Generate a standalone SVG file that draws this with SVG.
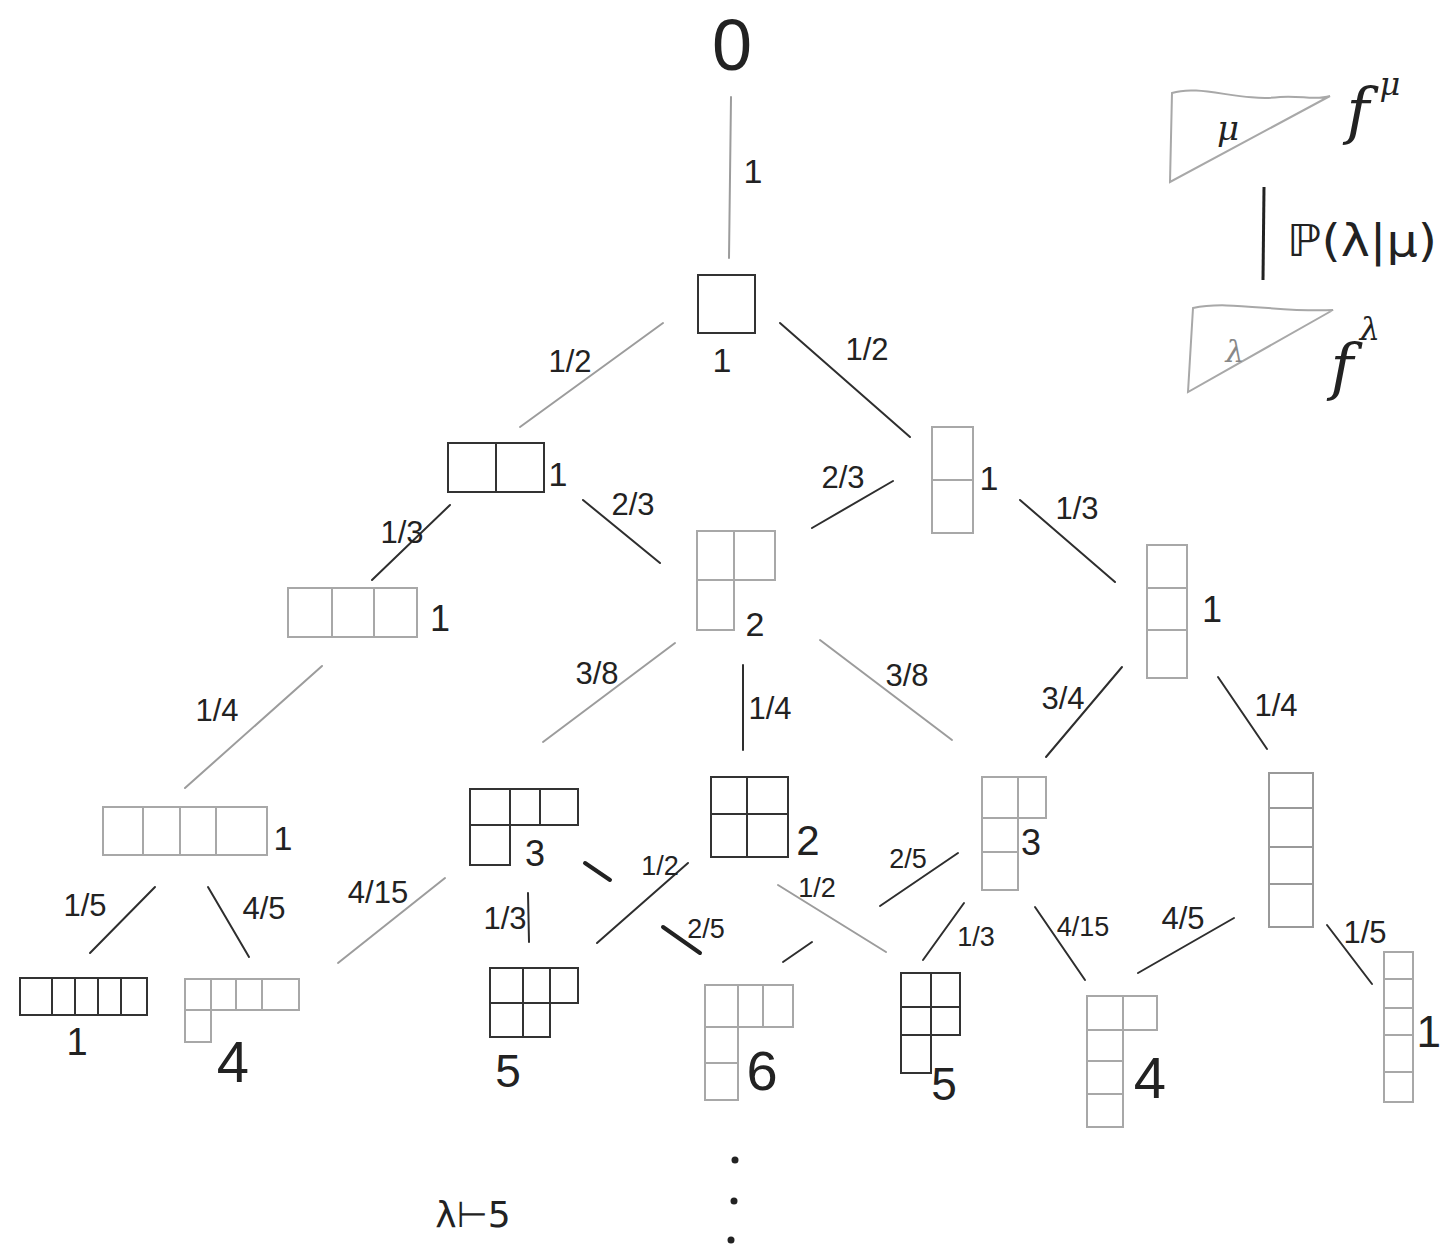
<svg xmlns="http://www.w3.org/2000/svg" width="1442" height="1245" viewBox="0 0 1442 1245">
<style>
.d{fill:none;stroke:#333;stroke-width:2}
.g{fill:none;stroke:#a8a8a8;stroke-width:2}
.e{stroke:#2e2e2e;stroke-width:2;stroke-linecap:round}
.eg{stroke:#9c9c9c;stroke-width:2;stroke-linecap:round}
.et{stroke:#222;stroke-width:4;stroke-linecap:round}
text{font-family:"Liberation Sans","DejaVu Sans",sans-serif;fill:#222;text-anchor:middle}
.fr{font-size:31px}
.sm{font-size:27px}
.sym{font-family:"DejaVu Serif",serif;font-style:italic}
</style>
<rect width="1442" height="1245" fill="#fff"/>
<g id="connectors">
<line class="eg" x1="731" y1="97" x2="729" y2="258"/><text x="753" y="183" style="font-size:34px">1</text>
<line class="eg" x1="663" y1="323" x2="520" y2="427"/><text class="fr" x="570" y="372">1/2</text>
<line class="e" x1="780" y1="323" x2="910" y2="437"/><text class="fr" x="867" y="360">1/2</text>
<line class="e" x1="450" y1="505" x2="372" y2="580"/><text class="fr" x="402" y="543">1/3</text>
<line class="e" x1="583" y1="500" x2="660" y2="563"/><text class="fr" x="633" y="515">2/3</text>
<line class="e" x1="893" y1="481" x2="812" y2="528"/><text class="fr" x="843" y="488">2/3</text>
<line class="e" x1="1020" y1="500" x2="1115" y2="582"/><text class="fr" x="1077" y="519">1/3</text>
<line class="eg" x1="322" y1="666" x2="185" y2="788"/><text class="fr" x="217" y="721">1/4</text>
<line class="eg" x1="675" y1="643" x2="543" y2="742"/><text class="fr" x="597" y="684">3/8</text>
<line class="e" x1="743" y1="665" x2="743" y2="750"/><text class="fr" x="770" y="719">1/4</text>
<line class="eg" x1="820" y1="640" x2="952" y2="740"/><text class="fr" x="907" y="686">3/8</text>
<line class="e" x1="1122" y1="667" x2="1046" y2="757"/><text class="fr" x="1063" y="709">3/4</text>
<line class="e" x1="1218" y1="677" x2="1267" y2="749"/><text class="fr" x="1276" y="716">1/4</text>
<line class="e" x1="155" y1="887" x2="90" y2="953"/><text class="fr" x="85" y="916">1/5</text>
<line class="e" x1="208" y1="887" x2="249" y2="957"/><text class="fr" x="264" y="919">4/5</text>
<line class="eg" x1="445" y1="878" x2="338" y2="963"/><text class="fr" x="378" y="903">4/15</text>
<line class="e" x1="528" y1="893" x2="529" y2="942"/><text class="fr" x="505" y="929">1/3</text>
<line class="et" x1="585" y1="863" x2="610" y2="880"/><line class="et" x1="663" y1="927" x2="700" y2="953"/><text class="sm" x="706" y="938">2/5</text>
<line class="e" x1="688" y1="863" x2="597" y2="943"/><text class="sm" x="660" y="875">1/2</text>
<line class="eg" x1="778" y1="885" x2="886" y2="952"/><text class="sm" x="817" y="897">1/2</text>
<line class="e" x1="958" y1="853" x2="880" y2="906"/><line class="e" x1="812" y1="942" x2="783" y2="962"/><text class="sm" x="908" y="868">2/5</text>
<line class="e" x1="964" y1="903" x2="923" y2="960"/><text class="sm" x="976" y="946">1/3</text>
<line class="e" x1="1035" y1="907" x2="1085" y2="980"/><text class="sm" x="1083" y="936">4/15</text>
<line class="e" x1="1234" y1="918" x2="1138" y2="973"/><text class="fr" x="1183" y="929">4/5</text>
<line class="e" x1="1327" y1="925" x2="1372" y2="984"/><text class="fr" x="1365" y="943">1/5</text>
</g>
<g id="n-empty"><text x="732" y="70" style="font-size:72px;font-weight:300">0</text></g>
<g id="n-1"><rect class="d" x="698" y="275" width="57" height="58"/><text x="722" y="372" style="font-size:34px">1</text></g>
<g id="n-2"><g class="d"><rect x="448" y="443" width="48" height="49"/><rect x="496" y="443" width="48" height="49"/></g><text x="558" y="486" style="font-size:34px">1</text></g>
<g id="n-11"><g class="g"><rect x="932" y="427" width="41" height="53"/><rect x="932" y="480" width="41" height="53"/></g><text x="989" y="490" style="font-size:34px">1</text></g>
<g id="n-21"><g class="g"><rect x="697" y="531" width="37" height="49"/><rect x="734" y="531" width="41" height="49"/><rect x="697" y="580" width="37" height="50"/></g><text x="755" y="636" style="font-size:34px">2</text></g>
<g id="n-3"><g class="g"><rect x="288" y="588" width="44" height="49"/><rect x="332" y="588" width="42" height="49"/><rect x="374" y="588" width="43" height="49"/></g><text x="440" y="631" style="font-size:36px">1</text></g>
<g id="n-111"><g class="g"><rect x="1147" y="545" width="40" height="43"/><rect x="1147" y="588" width="40" height="42"/><rect x="1147" y="630" width="40" height="48"/></g><text x="1212" y="622" style="font-size:36px">1</text></g>
<g id="n-4"><g class="g"><rect x="103" y="807" width="40" height="48"/><rect x="143" y="807" width="37" height="48"/><rect x="180" y="807" width="36" height="48"/><rect x="216" y="807" width="51" height="48"/></g><text x="283" y="850" style="font-size:34px">1</text></g>
<g id="n-31"><g class="d"><rect x="470" y="789" width="40" height="36"/><rect x="510" y="789" width="30" height="36"/><rect x="540" y="789" width="38" height="36"/><rect x="470" y="825" width="40" height="40"/></g><text x="535" y="866" style="font-size:36px">3</text></g>
<g id="n-22"><g class="d"><rect x="711" y="777" width="36" height="37"/><rect x="747" y="777" width="41" height="37"/><rect x="711" y="814" width="36" height="43"/><rect x="747" y="814" width="41" height="43"/></g><text x="808" y="855" style="font-size:42px">2</text></g>
<g id="n-211"><g class="g"><rect x="982" y="777" width="36" height="41"/><rect x="1018" y="777" width="28" height="41"/><rect x="982" y="818" width="36" height="34"/><rect x="982" y="852" width="36" height="38"/></g><text x="1031" y="855" style="font-size:36px">3</text></g>
<g id="n-1111"><g class="g" style="stroke:#999"><rect x="1269" y="773" width="44" height="35"/><rect x="1269" y="808" width="44" height="39"/><rect x="1269" y="847" width="44" height="37"/><rect x="1269" y="884" width="44" height="43"/></g></g>
<g id="n-5"><g class="d"><rect x="20" y="978" width="32" height="37"/><rect x="52" y="978" width="23" height="37"/><rect x="75" y="978" width="23" height="37"/><rect x="98" y="978" width="23" height="37"/><rect x="121" y="978" width="26" height="37"/></g><text x="77" y="1055" style="font-size:38px">1</text></g>
<g id="n-41"><g class="g"><rect x="185" y="979" width="26" height="31"/><rect x="211" y="979" width="25" height="31"/><rect x="236" y="979" width="26" height="31"/><rect x="262" y="979" width="37" height="31"/><rect x="185" y="1010" width="26" height="32"/></g><text x="233" y="1082" style="font-size:58px">4</text></g>
<g id="n-32"><g class="d"><rect x="490" y="968" width="33" height="35"/><rect x="523" y="968" width="27" height="35"/><rect x="550" y="968" width="28" height="35"/><rect x="490" y="1003" width="33" height="34"/><rect x="523" y="1003" width="27" height="34"/></g><text x="508" y="1087" style="font-size:46px">5</text></g>
<g id="n-311"><g class="g"><rect x="705" y="985" width="33" height="42"/><rect x="738" y="985" width="25" height="42"/><rect x="763" y="985" width="30" height="42"/><rect x="705" y="1027" width="33" height="36"/><rect x="705" y="1063" width="33" height="37"/></g><text x="762" y="1090" style="font-size:56px">6</text></g>
<g id="n-221"><g class="d"><rect x="901" y="973" width="30" height="34"/><rect x="931" y="973" width="29" height="34"/><rect x="901" y="1007" width="30" height="28"/><rect x="931" y="1007" width="29" height="28"/><rect x="901" y="1035" width="30" height="38"/></g><text x="944" y="1100" style="font-size:46px">5</text></g>
<g id="n-2111"><g class="g"><rect x="1087" y="996" width="36" height="34"/><rect x="1123" y="996" width="34" height="34"/><rect x="1087" y="1030" width="36" height="31"/><rect x="1087" y="1061" width="36" height="33"/><rect x="1087" y="1094" width="36" height="33"/></g><text x="1150" y="1098" style="font-size:58px">4</text></g>
<g id="n-11111"><g class="g"><rect x="1384" y="952" width="29" height="27"/><rect x="1384" y="979" width="29" height="29"/><rect x="1384" y="1008" width="29" height="27"/><rect x="1384" y="1035" width="29" height="37"/><rect x="1384" y="1072" width="29" height="30"/></g><text x="1441" y="1047" style="font-size:44px;text-anchor:end">1</text></g>
<g id="legend">
<path class="g" d="M1172,93 C1200,84 1240,102 1280,97 C1300,95 1315,101 1330,96 L1170,182 Z"/>
<text class="sym" x="1228" y="140" style="font-size:34px">μ</text>
<text class="sym" x="1358" y="132" style="font-size:62px">f</text><text class="sym" x="1390" y="95" style="font-size:32px">μ</text>
<line x1="1264" y1="187" x2="1263" y2="280" stroke="#222" stroke-width="3"/>
<text x="1362" y="256" style="font-family:'DejaVu Sans',sans-serif;font-size:44px" textLength="150" lengthAdjust="spacingAndGlyphs">ℙ(λ|μ)</text>
<path class="g" d="M1193,308 C1230,300 1280,313 1333,310 L1188,392 Z"/>
<text class="sym" x="1235" y="362" style="font-size:30px;fill:#888">λ</text>
<text class="sym" x="1342" y="388" style="font-size:62px">f</text><text class="sym" x="1370" y="340" style="font-size:32px">λ</text>
</g>
<g id="footer">
<text x="473" y="1227" style="font-family:'DejaVu Sans',sans-serif;font-size:36px">λ⊢5</text>
<circle cx="735" cy="1160" r="3.5" fill="#222"/><circle cx="734" cy="1201" r="3.5" fill="#222"/><circle cx="731" cy="1240" r="3.5" fill="#222"/>
</g>
</svg>
